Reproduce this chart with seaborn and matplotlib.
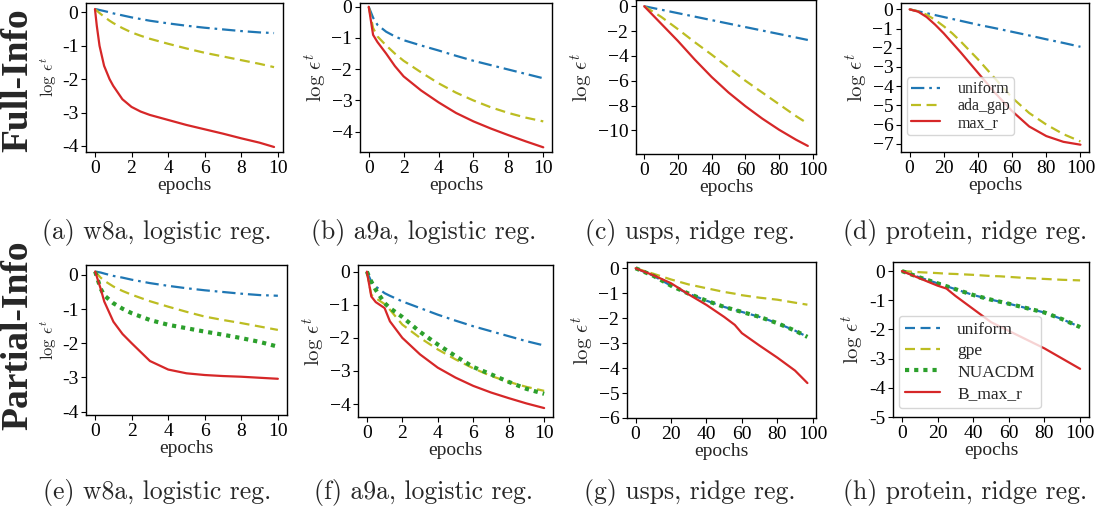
import numpy as np
import pandas as pd
import matplotlib
matplotlib.use("Agg")
import matplotlib.pyplot as plt
import seaborn as sns
from matplotlib.ticker import FuncFormatter

sns.set_style("ticks")
plt.rcParams['font.family'] = ['Liberation Serif', 'DejaVu Serif']
plt.rcParams['mathtext.fontset'] = 'cm'

# ---------------- data ----------------
# (a) w8a, logistic reg., Full-Info
a_x = [0, 0.1, 0.25, 0.5, 0.8, 1, 1.5, 2, 2.5, 3, 4, 5, 6, 7, 8, 9, 9.8]
a_uniform = [0.1, 0.09, 0.07, 0.04, 0.0, -0.03, -0.09, -0.15, -0.2, -0.25, -0.33, -0.4, -0.46, -0.51, -0.56, -0.6, -0.62]
a_ada_gap = [0.1, 0.05, -0.02, -0.13, -0.25, -0.32, -0.47, -0.6, -0.7, -0.79, -0.94, -1.08, -1.21, -1.32, -1.43, -1.54, -1.64]
a_max_r = [0.1, -0.4, -1.0, -1.6, -2.0, -2.2, -2.6, -2.83, -2.97, -3.07, -3.22, -3.37, -3.5, -3.63, -3.77, -3.9, -4.03]

# (b) a9a, logistic reg., Full-Info
b_x = [0, 0.25, 0.5, 1, 1.5, 2, 3, 4, 5, 6, 7, 8, 9, 10]
b_uniform = [0, -0.35, -0.58, -0.8, -0.95, -1.07, -1.24, -1.4, -1.57, -1.73, -1.87, -2.01, -2.15, -2.29]
b_ada_gap = [0, -0.68, -0.95, -1.24, -1.5, -1.73, -2.1, -2.45, -2.75, -3.0, -3.22, -3.4, -3.55, -3.67]
b_max_r = [0, -0.9, -1.13, -1.5, -1.9, -2.23, -2.68, -3.06, -3.4, -3.67, -3.9, -4.11, -4.31, -4.5]

# (c) usps, ridge reg., Full-Info
c_x = [0, 10, 20, 30, 40, 50, 60, 70, 80, 90, 97]
c_uniform = [0, -0.28, -0.56, -0.84, -1.12, -1.4, -1.68, -1.96, -2.24, -2.52, -2.72]
c_ada_gap = [0, -0.85, -1.85, -2.9, -3.9, -4.95, -6.0, -6.95, -7.9, -8.85, -9.45]
c_max_r = [0, -1.4, -2.8, -4.3, -5.7, -6.95, -8.05, -9.05, -9.95, -10.75, -11.25]

# (d) protein, ridge reg., Full-Info
d_x = [0, 5, 10, 15, 20, 25, 30, 40, 50, 60, 70, 80, 90, 100]
d_uniform = [0, -0.1, -0.2, -0.3, -0.4, -0.5, -0.6, -0.8, -0.98, -1.17, -1.36, -1.56, -1.75, -1.95]
d_ada_gap = [0, -0.1, -0.28, -0.55, -0.88, -1.25, -1.68, -2.6, -3.6, -4.6, -5.4, -6.0, -6.5, -6.88]
d_max_r = [0, -0.12, -0.4, -0.8, -1.25, -1.75, -2.25, -3.3, -4.35, -5.3, -6.1, -6.6, -6.9, -7.05]

# (e) w8a, logistic reg., Partial-Info
e_x = [0, 0.3, 0.5, 1, 1.5, 2, 3, 4, 5, 6, 7, 8, 9, 10]
e_uniform = [0.1, 0.07, 0.04, -0.03, -0.08, -0.14, -0.24, -0.32, -0.39, -0.45, -0.5, -0.55, -0.59, -0.61]
e_gpe = [0.1, -0.08, -0.17, -0.34, -0.47, -0.58, -0.77, -0.93, -1.08, -1.22, -1.32, -1.41, -1.51, -1.61]
e_nuacdm = [0.1, -0.4, -0.6, -0.83, -0.99, -1.12, -1.32, -1.46, -1.56, -1.66, -1.75, -1.85, -1.96, -2.1]
e_b_max_r = [0.1, -0.4, -0.78, -1.37, -1.73, -2.0, -2.52, -2.77, -2.88, -2.93, -2.96, -2.98, -3.01, -3.04]

# (f) a9a, logistic reg., Partial-Info
f_x = [0, 0.25, 0.5, 1, 1.3, 2, 3, 4, 5, 6, 7, 8, 9, 10]
f_uniform = [0, -0.3, -0.45, -0.65, -0.73, -0.9, -1.1, -1.3, -1.48, -1.65, -1.8, -1.95, -2.1, -2.23]
f_gpe = [0, -0.7, -0.8, -0.98, -1.15, -1.6, -2.0, -2.35, -2.65, -2.92, -3.15, -3.33, -3.48, -3.6]
f_nuacdm = [0, -0.3, -0.55, -0.95, -1.1, -1.37, -1.82, -2.2, -2.55, -2.88, -3.1, -3.33, -3.54, -3.69]
f_b_max_r = [0, -0.75, -0.92, -1.1, -1.5, -2.0, -2.5, -2.9, -3.2, -3.45, -3.65, -3.82, -3.98, -4.12]

# (g) usps, ridge reg., Partial-Info
g_x = [0, 10, 20, 30, 40, 50, 56, 60, 70, 80, 90, 97]
g_uniform = [0, -0.3, -0.7, -1.02, -1.3, -1.55, -1.67, -1.75, -1.95, -2.2, -2.5, -2.75]
g_gpe = [0, -0.22, -0.45, -0.65, -0.8, -0.95, -1.02, -1.08, -1.18, -1.26, -1.38, -1.46]
g_nuacdm = [0, -0.3, -0.7, -1.02, -1.3, -1.55, -1.67, -1.75, -1.95, -2.2, -2.5, -2.75]
g_b_max_r = [0, -0.28, -0.6, -1.05, -1.47, -1.95, -2.27, -2.6, -3.1, -3.58, -4.1, -4.6]

# (h) protein, ridge reg., Partial-Info
h_x = [0, 10, 20, 25, 30, 40, 50, 55, 60, 70, 80, 90, 100]
h_uniform = [0, -0.22, -0.42, -0.52, -0.62, -0.82, -0.98, -1.05, -1.12, -1.27, -1.42, -1.65, -1.92]
h_gpe = [0, -0.04, -0.07, -0.09, -0.1, -0.13, -0.17, -0.18, -0.2, -0.24, -0.27, -0.3, -0.32]
h_nuacdm = [0, -0.22, -0.42, -0.52, -0.62, -0.82, -0.98, -1.05, -1.12, -1.27, -1.42, -1.65, -1.92]
h_b_max_r = [0, -0.25, -0.5, -0.6, -0.85, -1.3, -1.75, -1.9, -2.05, -2.35, -2.65, -3.0, -3.35]

captions = ["(a) w8a, logistic reg.", "(b) a9a, logistic reg.", "(c) usps, ridge reg.",
            "(d) protein, ridge reg.", "(e) w8a, logistic reg.", "(f) a9a, logistic reg.",
            "(g) usps, ridge reg.", "(h) protein, ridge reg."]
row_labels = ["Full-Info", "Partial-Info"]
x_ticks_small = [0, 2, 4, 6, 8, 10]
x_ticks_large = [0, 20, 40, 60, 80, 100]

# ---------------- styles ----------------
BLUE = '#1f77b4'
YEL = '#bcbd22'
RED = '#d62728'
GRN = '#2ca02c'
DASHDOT = (0, (6, 2.2, 1.2, 2.2))
DASH = (0, (4.5, 2.5))
DOT = (0, (1, 1.2))

W, H = 1098, 515
fig = plt.figure(figsize=(W / 100, H / 100), dpi=100)

def add_ax(l, t, r, b):
    return fig.add_axes([l / W, 1 - b / H, (r - l) / W, (b - t) / H])

boxes = [(86, 3, 283, 152), (360, 3, 552, 152), (636, 0, 816, 154), (901, 3, 1089, 152),
         (86, 265, 287, 415), (358, 265, 553, 417), (627, 262, 816, 418), (893, 262, 1089, 417)]

panels = [
    (a_x, [("uniform", a_uniform, BLUE, DASHDOT, 1.6), ("ada_gap", a_ada_gap, YEL, DASH, 1.6), ("max_r", a_max_r, RED, '-', 1.6)]),
    (b_x, [("uniform", b_uniform, BLUE, DASHDOT, 1.6), ("ada_gap", b_ada_gap, YEL, DASH, 1.6), ("max_r", b_max_r, RED, '-', 1.6)]),
    (c_x, [("uniform", c_uniform, BLUE, DASHDOT, 1.6), ("ada_gap", c_ada_gap, YEL, DASH, 1.6), ("max_r", c_max_r, RED, '-', 1.6)]),
    (d_x, [("uniform", d_uniform, BLUE, DASHDOT, 1.6), ("ada_gap", d_ada_gap, YEL, DASH, 1.6), ("max_r", d_max_r, RED, '-', 1.6)]),
    (e_x, [("uniform", e_uniform, BLUE, DASHDOT, 1.6), ("gpe", e_gpe, YEL, DASH, 1.6), ("NUACDM", e_nuacdm, GRN, DOT, 3.0), ("B_max_r", e_b_max_r, RED, '-', 1.6)]),
    (f_x, [("uniform", f_uniform, BLUE, DASHDOT, 1.6), ("gpe", f_gpe, YEL, DASH, 1.6), ("NUACDM", f_nuacdm, GRN, DOT, 3.0), ("B_max_r", f_b_max_r, RED, '-', 1.6)]),
    (g_x, [("uniform", g_uniform, BLUE, DASH, 1.6), ("gpe", g_gpe, YEL, DASH, 1.6), ("NUACDM", g_nuacdm, GRN, DOT, 3.0), ("B_max_r", g_b_max_r, RED, '-', 1.6)]),
    (h_x, [("uniform", h_uniform, BLUE, DASH, 1.6), ("gpe", h_gpe, YEL, DASH, 1.6), ("NUACDM", h_nuacdm, GRN, DOT, 3.0), ("B_max_r", h_b_max_r, RED, '-', 1.6)]),
]

ylims = [(-4.18, 0.28), (-4.65, 0.12), (-11.9, 0.5), (-7.43, 0.33), (-4.1, 0.29), (-4.39, 0.2), (-6.0, 0.25), (-5.0, 0.31)]
yticks = [[0, -1, -2, -3, -4], [0, -1, -2, -3, -4], [0, -2, -4, -6, -8, -10], [0, -1, -2, -3, -4, -5, -6, -7],
          [0, -1, -2, -3, -4], [0, -1, -2, -3, -4], [0, -1, -2, -3, -4, -5, -6], [0, -1, -2, -3, -4, -5]]
hyphen = [True, False, False, False, True, False, False, True]
tick_fs = [14, 14, 14, 14, 14, 14, 14, 14]
ylab_fs = [12, 15, 15, 15, 12, 15, 15, 15]

for i, ((l, t, r, b), (xs, series)) in enumerate(zip(boxes, panels)):
    ax = add_ax(l, t, r, b)
    for name, ys, col, ls, lw in series:
        df = pd.DataFrame({"epochs": xs, "val": ys})
        sns.lineplot(data=df, x="epochs", y="val", ax=ax, color=col, linestyle=ls,
                     linewidth=lw, label=name, legend=False)
    ax.set_ylim(*ylims[i])
    ax.set_yticks(yticks[i])
    ax.set_xticks(x_ticks_small if i in (0, 1, 4, 5) else x_ticks_large)
    if hyphen[i]:
        ax.yaxis.set_major_formatter(FuncFormatter(lambda v, p: "%d" % v))
    else:
        ax.yaxis.set_major_formatter(FuncFormatter(lambda v, p: ("%d" % v).replace("-", "\u2212")))
    ax.tick_params(labelsize=tick_fs[i], length=3.5, width=0.8, colors='black', pad=2)
    for s in ax.spines.values():
        s.set_color('black')
        s.set_linewidth(1.0)
    ax.set_xlabel("epochs", fontsize=14, labelpad=0)
    ax.set_ylabel(r"$\log\,\epsilon^t$", fontsize=ylab_fs[i], labelpad=2)
    if i == 3:
        ax.legend(loc='lower left', bbox_to_anchor=(0.032, 0.114), borderaxespad=0, fontsize=11.5,
                  frameon=True, handlelength=1.8, handletextpad=1.1, borderpad=0.25, labelspacing=0.05,
                  edgecolor='#cccccc', fancybox=True)
    if i == 7:
        ax.legend(loc='lower left', bbox_to_anchor=(0.03, 0.058), borderaxespad=0, fontsize=12.5,
                  frameon=True, handlelength=2.0, handletextpad=1.0, borderpad=0.35, labelspacing=0.3,
                  edgecolor='#cccccc', fancybox=True)

cap_pos = [(157, 232), (424, 232), (690, 232), (965, 232), (157, 493), (424, 493), (690, 493), (965, 493)]
for (cx, cy), txt in zip(cap_pos, captions):
    fig.text(cx / W, 1 - cy / H, txt, ha='center', va='center', fontsize=18.5, family='cmr10')

fig.text(18 / W, 1 - 80 / H, row_labels[0], rotation=90, ha='center', va='center',
         fontsize=27, fontweight='bold')
fig.text(18 / W, 1 - 335 / H, row_labels[1], rotation=90, ha='center', va='center',
         fontsize=27, fontweight='bold')

fig.savefig("out.png", dpi=100)
